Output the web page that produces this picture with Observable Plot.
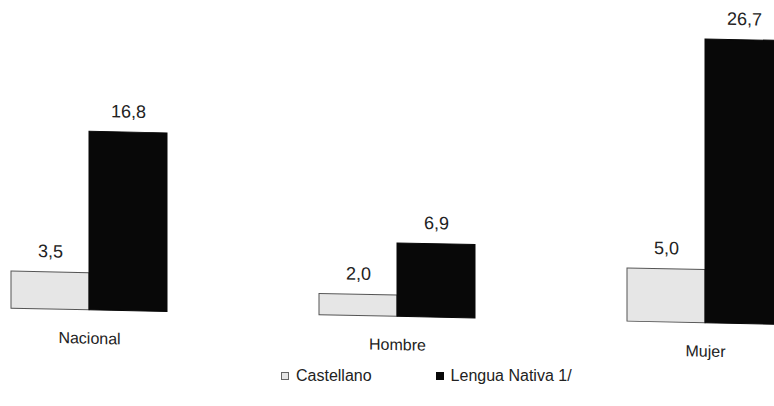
<!DOCTYPE html>
<html>
<head>
<meta charset="utf-8">
<script src="https://cdn.jsdelivr.net/npm/d3@7"></script>
<script src="https://cdn.jsdelivr.net/npm/@observablehq/plot@0.6"></script>
<style>
  html, body { margin: 0; padding: 0; background: #fff; }
  body { width: 774px; height: 406px; position: relative; overflow: hidden; font-family: "Liberation Sans", Arial, sans-serif; }
  #chart svg { display: block; overflow: visible; transform: skewY(1.2deg); transform-origin: 0 0; }
  #legend { position: absolute; top: 367px; left: 281px; display: flex; align-items: center; font-size: 16px; color: #222; }
  .item { display: flex; align-items: center; }
  .sw { width: 8px; height: 8px; margin-right: 7px; box-sizing: border-box; }
</style>
</head>
<body>
<div id="chart"></div>
<div id="legend"></div>
<script>
const groups = ["Nacional", "Hombre", "Mujer"];
const series = ["Castellano", "Lengua Nativa 1/"];
const castellano = [3.5, 2.0, 5.0];
const lengua = [16.8, 6.9, 26.7];
const colors = ["#e6e6e6", "#080808"];

const data = groups.flatMap((g, i) => [
  {group: g, serie: series[0], value: castellano[i]},
  {group: g, serie: series[1], value: lengua[i]}
]);

const fmt = v => v.toFixed(1).replace(".", ",");

const chart = Plot.plot({
  width: 774,
  height: 362,
  marginTop: 22,
  marginBottom: 54,
  marginLeft: 10,
  marginRight: 0,
  style: {fontFamily: "'Liberation Sans', Arial, sans-serif", fontSize: "16px", color: "#222", overflow: "visible"},
  fx: {domain: groups, range: [10, 784], paddingInner: 0.495, paddingOuter: 0, axis: "bottom", tickSize: 0, tickPadding: 22, label: null},
  x: {domain: series, padding: 0, axis: null},
  y: {domain: [0, 26.9], axis: null},
  color: {domain: series, range: colors},
  marks: [
    Plot.barY(data, {fx: "group", x: "serie", y: "value", fill: "serie",
      stroke: d => d.serie === series[0] ? "#555" : "#080808", strokeWidth: 1}),
    Plot.text(data, {fx: "group", x: "serie", y: "value", text: d => fmt(d.value),
      lineAnchor: "bottom", dy: -15, fontSize: 18, fill: "#222"})
  ]
});
document.getElementById("chart").appendChild(chart);

const legend = document.getElementById("legend");
series.forEach((s, i) => {
  const item = document.createElement("div");
  item.className = "item";
  if (i === 0) item.style.marginRight = "64px";
  const sw = document.createElement("span");
  sw.className = "sw";
  sw.style.background = colors[i];
  sw.style.border = i === 0 ? "1px solid #666" : "1px solid #080808";
  const t = document.createElement("span");
  t.textContent = s;
  item.appendChild(sw);
  item.appendChild(t);
  legend.appendChild(item);
});
</script>
</body>
</html>
